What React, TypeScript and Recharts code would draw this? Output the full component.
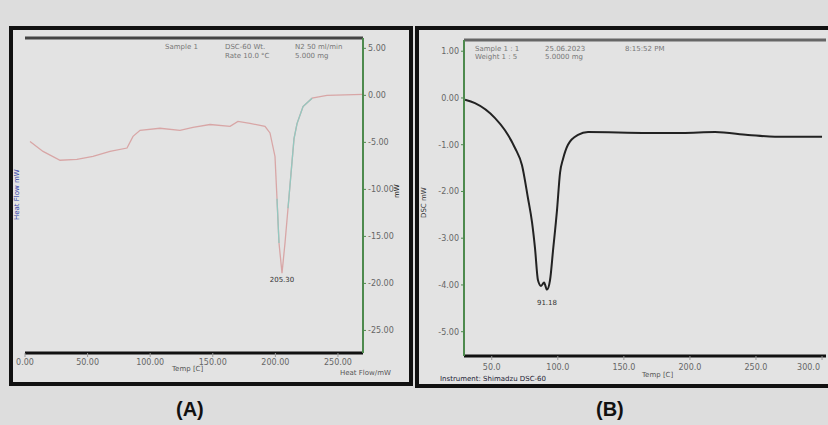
import React from 'react';
import { LineChart, Line, XAxis, YAxis, ReferenceLine, ReferenceDot } from 'recharts';

// panel A: DSC curve (temperature in °C, heat flow in mW)
const tempA = [4, 14.4, 28, 41.5, 54.3, 67.9, 81.5, 86.3, 91.9, 107.8, 123.8, 134.2, 147.8, 163.8, 170.1, 179.7, 191.7, 195.7, 199.7, 201.3, 202.9, 205.3, 207.7, 210.1, 212.5, 214.9, 217.3, 222.1, 229.3, 241.2, 270];
const heatA = [-4.9, -5.96, -6.9, -6.8, -6.5, -5.96, -5.6, -4.36, -3.72, -3.5, -3.72, -3.4, -3.1, -3.3, -2.77, -2.98, -3.3, -4.0, -6.5, -11.0, -15.7, -18.9, -15.7, -12.0, -8.3, -4.6, -3.0, -1.2, -0.3, 0, 0.1];
// the part of the trace drawn in the second (teal) colour
const tealA = [null, null, null, null, null, null, null, null, null, null, null, null, null, null, null, null, null, null, null, -11.0, -15.7, null, null, -12.0, -8.3, -4.6, -3.0, -1.2, -0.3, null, null];
const ticksAX = [0, 50, 100, 150, 200, 250];
const ticksAY = [5, 0, -5, -10, -15, -20, -25];

// panel B
const tempB = [29.8, 37.3, 52.5, 60, 67.6, 72.9, 77.4, 80.5, 82.7, 85, 87.3, 89.6, 91.8, 94.1, 96.4, 99.4, 101.7, 104, 107.7, 115.3, 122.9, 168.3, 194, 219, 244, 264.4, 300];
const heatB = [-0.04, -0.11, -0.43, -0.69, -1.07, -1.44, -2.14, -2.66, -3.2, -3.9, -4.02, -3.95, -4.1, -3.9, -3.26, -2.4, -1.6, -1.3, -1.0, -0.79, -0.73, -0.75, -0.75, -0.73, -0.79, -0.83, -0.83];
const ticksBX = [50, 100, 150, 200, 250, 300];
const ticksBY = [1, 0, -1, -2, -3, -4, -5];

const dataA = tempA.map((t, i) => ({ t, heat: heatA[i], teal: tealA[i] }));
const dataB = tempB.map((t, i) => ({ t, heat: heatB[i] }));

const font = 'DejaVu Sans, sans-serif';
const tickStyle = { fontSize: 8, fill: '#666', fontFamily: font };

const abs = (left: number, top: number, extra: React.CSSProperties = {}): React.CSSProperties => ({
  position: 'absolute',
  left,
  top,
  ...extra,
});

// last x tick of panel B sits on the frame edge, so pull it inwards
function TickB(props: any) {
  const { x, y, payload } = props;
  const last = payload.value === ticksBX[ticksBX.length - 1];
  return (
    <text x={last ? x + 4 : x} y={y + 8} textAnchor={last ? 'end' : 'middle'} fontSize={8} fill="#666" fontFamily={font}>
      {payload.value.toFixed(1)}
    </text>
  );
}

function Small({ x, y, children, color = '#777', size = 7 }: { x: number; y: number; children: React.ReactNode; color?: string; size?: number }) {
  return (
    <div style={abs(x, y, { fontSize: size, color, fontFamily: font, whiteSpace: 'nowrap', lineHeight: 1 })}>
      {children}
    </div>
  );
}

function Vertical({ x, y, children, color }: { x: number; y: number; children: React.ReactNode; color: string }) {
  return (
    <div
      style={abs(x, y, {
        fontSize: 7,
        color,
        fontFamily: font,
        whiteSpace: 'nowrap',
        transform: 'rotate(-90deg)',
        transformOrigin: 'left top',
        lineHeight: 1,
      })}
    >
      {children}
    </div>
  );
}

export default function App() {
  return (
    <div style={{ position: 'fixed', left: 0, top: 0, width: 828, height: 425, background: '#dddddd', overflow: 'hidden' }}>
      {/* frames */}
      <div style={abs(9, 26, { width: 404, height: 360, border: '4px solid #111', boxSizing: 'border-box', background: '#e3e3e3' })} />
      <div style={abs(415, 26, { width: 420, height: 362, border: '4px solid #111', boxSizing: 'border-box', background: '#e3e3e3' })} />

      {/* panel A */}
      <div style={abs(10, 27)}>
        <LineChart width={400} height={358} data={dataA} margin={{ top: 11, right: 0, left: 15, bottom: 12 }}>
          <XAxis
            dataKey="t"
            type="number"
            domain={[0, 270]}
            ticks={ticksAX}
            tickFormatter={(v: number) => v.toFixed(2)}
            tick={tickStyle}
            tickSize={4}
            height={20}
            axisLine={{ stroke: '#111', strokeWidth: 3 }}
            tickLine={{ stroke: '#999' }}
          />
          <YAxis yAxisId="l" domain={[-27.4, 6.1]} width={0} tick={false} tickLine={false} axisLine={{ stroke: '#1a1a5a', strokeWidth: 3 }} />
          <YAxis
            yAxisId="r"
            orientation="right"
            domain={[-27.4, 6.1]}
            ticks={ticksAY}
            tickFormatter={(v: number) => v.toFixed(2)}
            tick={tickStyle}
            tickSize={3}
            width={47}
            axisLine={{ stroke: '#4e8a4e', strokeWidth: 2 }}
            tickLine={{ stroke: '#4e8a4e' }}
          />
          <ReferenceLine yAxisId="r" y={6.1} stroke="#444" strokeWidth={3} />
          <Line yAxisId="r" type="linear" dataKey="heat" stroke="#d8a6a6" strokeWidth={1.3} dot={false} isAnimationActive={false} />
          <Line yAxisId="r" type="linear" dataKey="teal" stroke="#93c8c0" strokeWidth={1.3} dot={false} connectNulls={false} isAnimationActive={false} />
          <ReferenceDot
            yAxisId="r"
            x={205.3}
            y={-18.9}
            r={0}
            label={{ value: '205.30', position: 'bottom', offset: 4, fontSize: 7, fill: '#333', fontFamily: font }}
          />
        </LineChart>
      </div>
      <Small x={165} y={44}>Sample 1</Small>
      <Small x={225} y={44}>DSC-60 Wt.</Small>
      <Small x={295} y={44}>N2 50 ml/min</Small>
      <Small x={225} y={53}>Rate 10.0 °C</Small>
      <Small x={295} y={53}>5.000 mg</Small>
      <Small x={172} y={366} color="#555">Temp [C]</Small>
      <Small x={340} y={370} color="#555">Heat Flow/mW</Small>
      <Vertical x={14} y={220} color="#3344aa">Heat Flow mW</Vertical>
      <Vertical x={394} y={198} color="#111">mW</Vertical>

      {/* panel B */}
      <div style={abs(418, 27)}>
        <LineChart width={410} height={358} data={dataB} margin={{ top: 13, right: 2, left: 6, bottom: 11 }}>
          <XAxis
            dataKey="t"
            type="number"
            domain={[29, 303]}
            ticks={ticksBX}
            tick={<TickB />}
            tickSize={4}
            height={18}
            axisLine={{ stroke: '#111', strokeWidth: 3 }}
            tickLine={{ stroke: '#999' }}
          />
          <YAxis
            yAxisId="l"
            domain={[-5.52, 1.24]}
            ticks={ticksBY}
            tickFormatter={(v: number) => v.toFixed(2)}
            tick={tickStyle}
            tickSize={3}
            width={40}
            axisLine={{ stroke: '#4e8a4e', strokeWidth: 2 }}
            tickLine={{ stroke: '#4e8a4e' }}
          />
          <YAxis yAxisId="r" orientation="right" domain={[-5.52, 1.24]} width={0} tick={false} tickLine={false} axisLine={{ stroke: '#1a1a5a', strokeWidth: 3 }} />
          <ReferenceLine yAxisId="l" y={1.24} stroke="#666" strokeWidth={3} />
          <Line yAxisId="l" type="monotone" dataKey="heat" stroke="#222" strokeWidth={2} dot={false} isAnimationActive={false} />
          <ReferenceDot
            yAxisId="l"
            x={91.8}
            y={-4.1}
            r={0}
            label={{ value: '91.18', position: 'bottom', offset: 10, fontSize: 7, fill: '#333', fontFamily: font }}
          />
        </LineChart>
      </div>
      <Small x={475} y={46}>Sample 1 : 1</Small>
      <Small x={545} y={46}>25.06.2023</Small>
      <Small x={625} y={46}>8:15:52 PM</Small>
      <Small x={475} y={54}>Weight 1 : 5</Small>
      <Small x={545} y={54}>5.0000 mg</Small>
      <Small x={642} y={372} color="#555">Temp [C]</Small>
      <Small x={440} y={376} color="#223">Instrument: Shimadzu DSC-60</Small>
      <Vertical x={421} y={218} color="#333">DSC mW</Vertical>

      {/* panel captions */}
      <div style={abs(176, 398, { fontSize: 20, fontWeight: 'bold', fontFamily: 'Liberation Sans, sans-serif', color: '#111' })}>(A)</div>
      <div style={abs(596, 398, { fontSize: 20, fontWeight: 'bold', fontFamily: 'Liberation Sans, sans-serif', color: '#111' })}>(B)</div>
    </div>
  );
}
